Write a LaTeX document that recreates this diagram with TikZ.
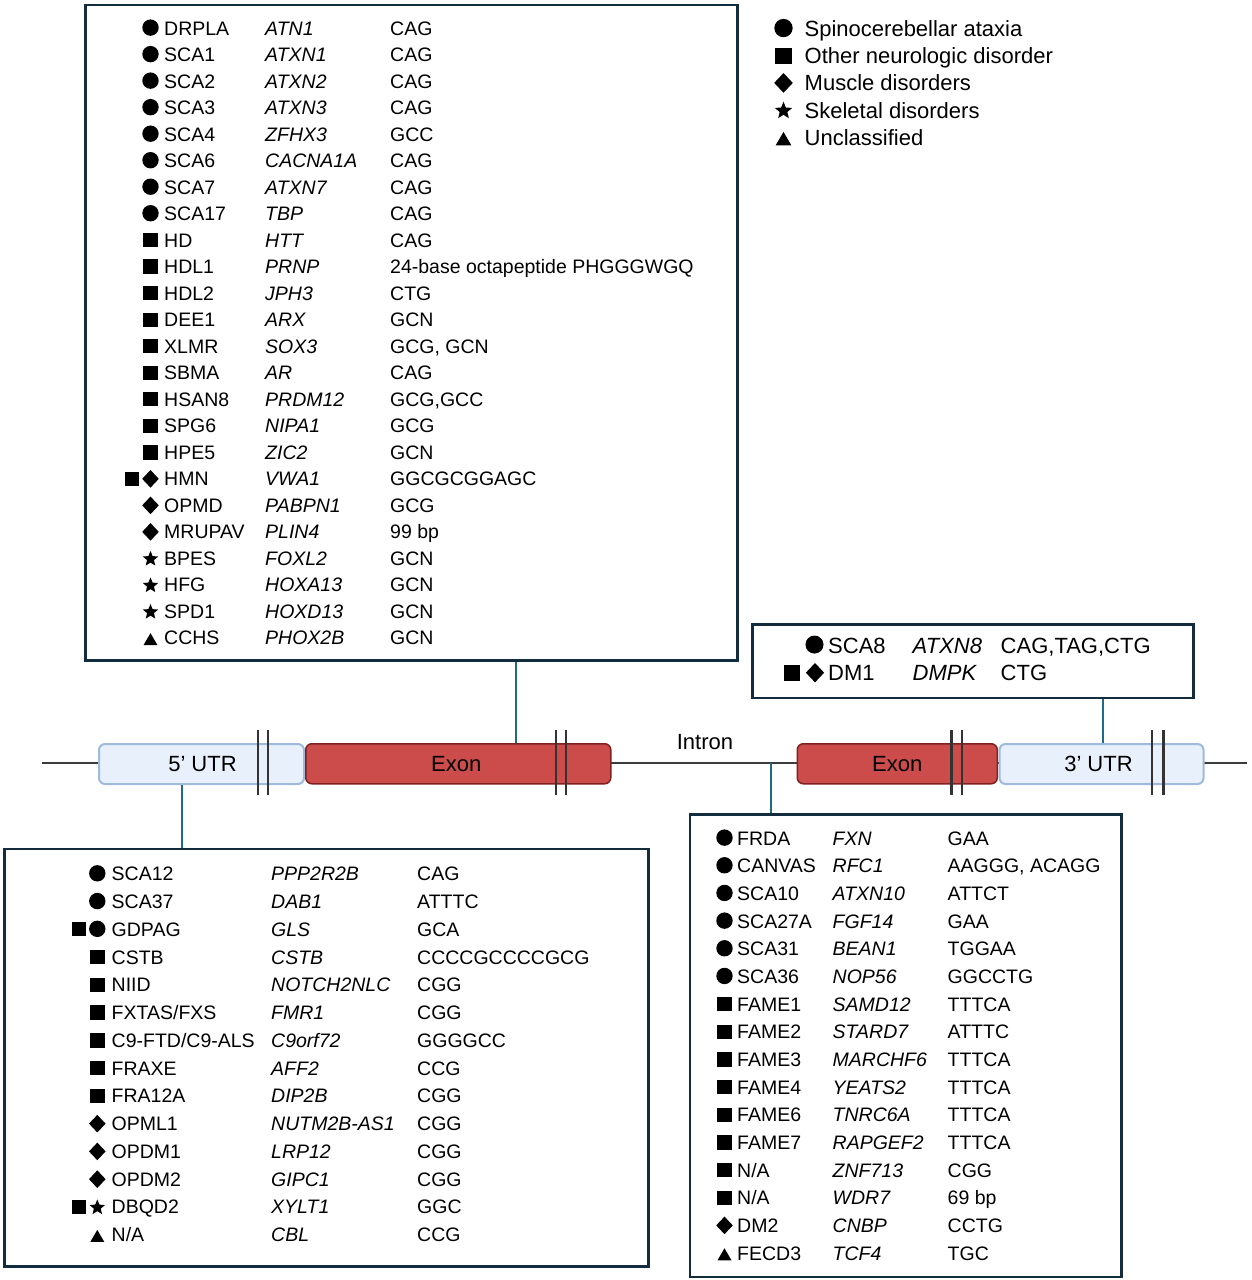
\documentclass[tikz,border=0pt]{standalone}
\usepackage{fontspec}
\setmainfont{Liberation Sans}
\definecolor{boxc}{RGB}{20,45,62}
\definecolor{connc}{RGB}{30,105,140}
\definecolor{genec}{RGB}{60,60,60}
\definecolor{exonf}{RGB}{204,76,76}
\definecolor{exond}{RGB}{128,32,32}
\definecolor{utrf}{RGB}{232,240,251}
\definecolor{utrd}{RGB}{160,186,222}
\newcommand\dC[3]{\fill[shift={(#1,#2)},scale=#3] (0,0.4pt) circle[radius=8.2pt];}
\newcommand\dS[3]{\fill[shift={(#1,#2)},scale=#3] (-7.3pt,-7.2pt) rectangle (7.3pt,7.2pt);}
\newcommand\dD[3]{\fill[shift={(#1,#2)},scale=#3] (8.3pt,0) -- (0,8.8pt) -- (-8.3pt,0) -- (0,-8.8pt) -- cycle;}
\newcommand\dR[3]{\fill[shift={(#1,#2)},scale=#3,yshift=-0.6pt] (90:8.1pt) -- (126:3.6pt) -- (162:8.1pt) -- (198:3.6pt) -- (234:8.1pt) -- (270:3.6pt) -- (306:8.1pt) -- (342:3.6pt) -- (18:8.1pt) -- (54:3.6pt) -- cycle;}
\newcommand\dT[3]{\fill[shift={(#1,#2)},scale=#3] (0,4.8pt) -- (-7pt,-7.2pt) -- (7pt,-7.2pt) -- cycle;}
\newcommand\dSD[3]{\dS{#1-18.5}{#2}{#3}\dD{#1}{#2}{#3}}
\newcommand\dSC[3]{\dS{#1-18.5}{#2}{#3}\dC{#1}{#2}{#3}}
\newcommand\dSR[3]{\dS{#1-18.5}{#2}{#3}\dR{#1}{#2}{#3}}
\newcommand\fxs{FXTAS/FXS}
\newcommand\cnine{C9-FTD/C9-ALS}
\newcommand\NA{N/A}
\begin{document}
\begin{tikzpicture}[x=1pt,y=-1pt,
  tx/.style={anchor=base west,inner sep=0pt,font=\fontsize{19.5}{23}\selectfont},
  txl/.style={anchor=base west,inner sep=0pt,font=\fontsize{22}{26}\selectfont},
  box/.style={draw=boxc,line width=2.8pt,inner sep=0pt,anchor=north west},
  conn/.style={draw=connc,line width=2pt},
  gline/.style={draw=genec,line width=2pt},
  bar/.style={draw=black!80,line width=2.6pt},
  exon/.style={fill=exonf,draw=exond,line width=1.5pt,rounded corners=6pt,anchor=north west,minimum height=40pt,inner sep=0pt,font=\fontsize{22}{26}\selectfont},
  utr/.style={fill=utrf,draw=utrd,line width=2pt,rounded corners=6pt,anchor=north west,minimum height=40pt,inner sep=0pt,font=\fontsize{22}{26}\selectfont}]
\useasboundingbox (0,0) rectangle (1251,1280);

% ---------- gene model ----------
\coordinate (gl) at (42,763);
\coordinate (gr) at (1247,763);
\draw[gline] (gl) -- (gr);
\node[utr,minimum width=205pt] (utr5) at (98,743) {\hspace*{2pt}5’ UTR};
\node[exon,minimum width=305pt] (exon1) at (305,743) {Exon\hspace*{4pt}};
\node[exon,minimum width=200pt] (exon2) at (796.5,743) {Exon};
\node[utr,minimum width=204pt] (utr3) at (998.5,743) {3’ UTR\hspace*{6pt}};
\node[anchor=base,inner sep=0pt,font=\fontsize{22}{26}\selectfont] (intron) at (705,749) {Intron};
\foreach \bx in {258,268,556,566,951.5,962,1152,1163.5}{
  \draw[bar] (\bx,730) -- (\bx,795);
}

% ---------- boxes ----------
\node[box,minimum width=652pt,minimum height=655.5pt] (topbox) at (84,3.5) {};
\node[box,minimum width=441pt,minimum height=73.5pt] (scabox) at (751,623) {};
\node[box,minimum width=644pt,minimum height=417.5pt] (blbox) at (3,847.5) {};
\node[box,minimum width=431.5pt,minimum height=462.5pt] (rbox) at (688.5,813) {};

% ---------- connectors ----------
\coordinate (k5) at (182,0);
\draw[conn] (k5 |- utr5.south) -- (k5 |- blbox.north);
\coordinate (ke) at (516,0);
\draw[conn] (ke |- exon1.north) -- (ke |- topbox.south);
\coordinate (ki) at (771,763);
\draw[conn] (ki) -- (ki |- rbox.north);
\coordinate (k3) at (1102.5,0);
\draw[conn] (k3 |- utr3.north) -- (k3 |- scabox.south);

% ---------- top box ----------
\foreach \sy/\nm/\gn/\rp [count=\i] in {
  C/DRPLA/ATN1/CAG, C/SCA1/ATXN1/CAG, C/SCA2/ATXN2/CAG, C/SCA3/ATXN3/CAG,
  C/SCA4/ZFHX3/GCC, C/SCA6/CACNA1A/CAG, C/SCA7/ATXN7/CAG, C/SCA17/TBP/CAG,
  S/HD/HTT/CAG, S/HDL1/PRNP/24-base octapeptide PHGGGWGQ, S/HDL2/JPH3/CTG,
  S/DEE1/ARX/GCN, S/XLMR/SOX3/{GCG, GCN}, S/SBMA/AR/CAG, S/HSAN8/PRDM12/{GCG,GCC},
  S/SPG6/NIPA1/GCG, S/HPE5/ZIC2/GCN, SD/HMN/VWA1/GGCGCGGAGC, D/OPMD/PABPN1/GCG,
  D/MRUPAV/PLIN4/99 bp, R/BPES/FOXL2/GCN, R/HFG/HOXA13/GCN, R/SPD1/HOXD13/GCN,
  T/CCHS/PHOX2B/GCN}{
  \pgfmathsetmacro\yb{35+26.52*(\i-1)}
  \pgfmathsetmacro\ys{\yb-7}
  \csname d\sy\endcsname{150.5}{\ys}{1}
  \node[tx] (ta\i) at (164,\yb) {\nm};
  \node[tx] (tg\i) at (265,\yb) {\itshape\gn};
  \node[tx] (tr\i) at (390,\yb) {\rp};
}

% ---------- bottom-left box ----------
\foreach \sy/\nm/\gn/\rp [count=\i] in {
  C/SCA12/PPP2R2B/CAG, C/SCA37/DAB1/ATTTC, SC/GDPAG/GLS/GCA, S/CSTB/CSTB/CCCCGCCCCGCG,
  S/NIID/NOTCH2NLC/CGG, S/\fxs/FMR1/CGG, S/\cnine/C9orf72/GGGGCC, S/FRAXE/AFF2/CCG,
  S/FRA12A/DIP2B/CGG, D/OPML1/NUTM2B-AS1/CGG, D/OPDM1/LRP12/CGG, D/OPDM2/GIPC1/CGG,
  SR/DBQD2/XYLT1/GGC, T/\NA/CBL/CCG}{
  \pgfmathsetmacro\yb{880.7+27.77*(\i-1)}
  \pgfmathsetmacro\ys{\yb-7}
  \csname d\sy\endcsname{97.3}{\ys}{1}
  \node[tx] (ba\i) at (111.5,\yb) {\nm};
  \node[tx] (bg\i) at (271,\yb) {\itshape\gn};
  \node[tx] (br\i) at (417,\yb) {\rp};
}

% ---------- right box ----------
\foreach \sy/\nm/\gn/\rp [count=\i] in {
  C/FRDA/FXN/GAA, C/CANVAS/RFC1/{AAGGG, ACAGG}, C/SCA10/ATXN10/ATTCT, C/SCA27A/FGF14/GAA,
  C/SCA31/BEAN1/TGGAA, C/SCA36/NOP56/GGCCTG, S/FAME1/SAMD12/TTTCA, S/FAME2/STARD7/ATTTC,
  S/FAME3/MARCHF6/TTTCA, S/FAME4/YEATS2/TTTCA, S/FAME6/TNRC6A/TTTCA, S/FAME7/RAPGEF2/TTTCA,
  S/\NA/ZNF713/CGG, S/\NA/WDR7/69 bp, D/DM2/CNBP/CCTG, T/FECD3/TCF4/TGC}{
  \pgfmathsetmacro\yb{845+27.67*(\i-1)}
  \pgfmathsetmacro\ys{\yb-7}
  \csname d\sy\endcsname{724.5}{\ys}{1}
  \node[tx] (ra\i) at (737,\yb) {\nm};
  \node[tx] (rg\i) at (832.5,\yb) {\itshape\gn};
  \node[tx] (rr\i) at (947.5,\yb) {\rp};
}

% ---------- SCA8 / DM1 box ----------
\dC{814.5}{645}{1.1}
\node[txl] (sa1) at (828,653) {SCA8};
\node[txl] (sg1) at (912.5,653) {\itshape ATXN8};
\node[txl] (sr1) at (1000.5,653) {CAG,TAG,CTG};
\dS{792}{672.7}{1.1}
\dD{815}{672.7}{1.1}
\node[txl] (sa2) at (828,680.7) {DM1};
\node[txl] (sg2) at (912.5,680.7) {\itshape DMPK};
\node[txl] (sr2) at (1000.5,680.7) {CTG};

% ---------- legend ----------
\foreach \sy/\lb [count=\i] in {C/Spinocerebellar ataxia, S/Other neurologic disorder,
  D/Muscle disorders, R/Skeletal disorders, T/Unclassified}{
  \pgfmathsetmacro\yb{36.5+27.2*(\i-1)}
  \pgfmathsetmacro\ys{\yb-8}
  \csname d\sy\endcsname{783.5}{\ys}{1.12}
  \node[txl] (lg\i) at (804.5,\yb) {\lb};
}
\end{tikzpicture}
\end{document}
